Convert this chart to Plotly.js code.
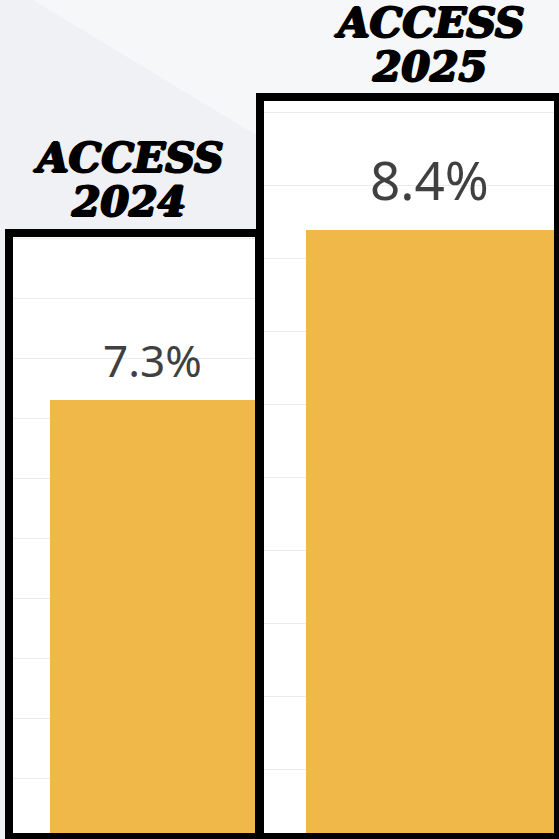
<!DOCTYPE html>
<html>
<head>
<meta charset="utf-8">
<script src="https://cdn.plot.ly/plotly-3.0.1.min.js"></script>
<style>html,body{margin:0;padding:0;background:#f6f7f9;}#chart{width:559px;height:839px;}</style>
</head>
<body>
<div id="chart"></div>
<script>
// ---- data ----
const categories = ["ACCESS 2024", "ACCESS 2025"];
const values = [7.3, 8.4];
const valueLabels = ["7.3%", "8.4%"];

// ---- layout helpers (pixels -> paper) ----
const W = 559, H = 839;
const px = x => x / W;
const py = y => 1 - y / H;

const barColor = '#EFB849';

const traces = categories.map((c, i) => ({
  type: 'bar',
  x: [c],
  y: [values[i]],
  width: [1],
  xaxis: i === 0 ? 'x' : 'x2',
  yaxis: i === 0 ? 'y' : 'y2',
  marker: { color: barColor },
  hoverinfo: 'none',
  showlegend: false
}));

const gridCol = '#ebebeb';
function xa(domain, range) {
  return { type: 'category', domain, range, showgrid: false, zeroline: false,
           showticklabels: false, ticks: '', showline: false, fixedrange: true };
}
function ya(domain, range) {
  return { domain, range, tick0: 0, dtick: 1, showgrid: true, gridcolor: gridCol, gridwidth: 1,
           zeroline: false, showticklabels: false, ticks: '', showline: false, fixedrange: true };
}

const titleFont = { family: 'DejaVu Serif', size: 41, color: '#000', weight: 'bold', style: 'italic',
                    shadow: '1.3px 0 0 #000, -1.3px 0 0 #000, 0 1px 0 #000, 0 -0.6px 0 #000' };
const titlePos = [
  { x: 128, y1: 158, y2: 202 },
  { x: 429, y1: 23, y2: 67 }
];
const labelStyle = [
  { size: 44, yshift: 8 },
  { size: 53, yshift: 12 }
];

const annotations = [];
categories.forEach((c, i) => {
  const parts = c.split(' ');
  annotations.push({ xref: 'paper', yref: 'paper', x: px(titlePos[i].x), y: py(titlePos[i].y1),
    xanchor: 'center', yanchor: 'middle', text: parts[0], showarrow: false, font: titleFont });
  annotations.push({ xref: 'paper', yref: 'paper', x: px(titlePos[i].x), y: py(titlePos[i].y2),
    xanchor: 'center', yanchor: 'middle', text: parts[1], showarrow: false, font: titleFont });
  annotations.push({ xref: i === 0 ? 'x' : 'x2', yref: i === 0 ? 'y' : 'y2', x: c, y: values[i],
    xanchor: 'center', yanchor: 'bottom', yshift: labelStyle[i].yshift, text: valueLabels[i], showarrow: false,
    font: { family: 'Noto Sans', size: labelStyle[i].size, color: '#404040' } });
});

const shapes = [
  // soft diagonal background tone (outside the frames)
  { type: 'path', xref: 'paper', yref: 'paper', layer: 'below', line: { width: 0 }, fillcolor: '#eff1f4',
    path: `M 0 ${py(0)} L ${px(33)} ${py(0)} L ${px(256)} ${py(135)} L ${px(256)} ${py(229)} L 0 ${py(229)} Z` },
  { type: 'rect', xref: 'paper', yref: 'paper', layer: 'below', line: { width: 0 }, fillcolor: '#eff1f4',
    x0: 0, x1: px(5), y0: 0, y1: py(229) },
  // black frames
  { type: 'rect', xref: 'paper', yref: 'paper', layer: 'above', x0: px(9), x1: px(259), y0: py(233), y1: py(837),
    line: { color: '#000', width: 8 }, fillcolor: 'rgba(0,0,0,0)' },
  { type: 'rect', xref: 'paper', yref: 'paper', layer: 'above', x0: px(260), x1: px(558), y0: py(97), y1: py(837),
    line: { color: '#000', width: 8 }, fillcolor: 'rgba(0,0,0,0)' }
];

const layout = {
  width: W, height: H,
  margin: { l: 0, r: 0, t: 0, b: 0, pad: 0 },
  paper_bgcolor: '#f6f7f9',
  plot_bgcolor: '#ffffff',
  bargap: 0,
  xaxis: xa([px(13), px(255)], [-0.68, 0.5]),
  yaxis: ya([py(833), py(237)], [0.083, 10.02]),
  xaxis2: xa([px(264), px(554)], [-0.669, 0.5]),
  yaxis2: ya([py(834), py(101)], [0.123, 10.16]),
  annotations, shapes,
  showlegend: false
};

Plotly.newPlot('chart', traces, layout, { staticPlot: true, displayModeBar: false });
</script>
</body>
</html>
